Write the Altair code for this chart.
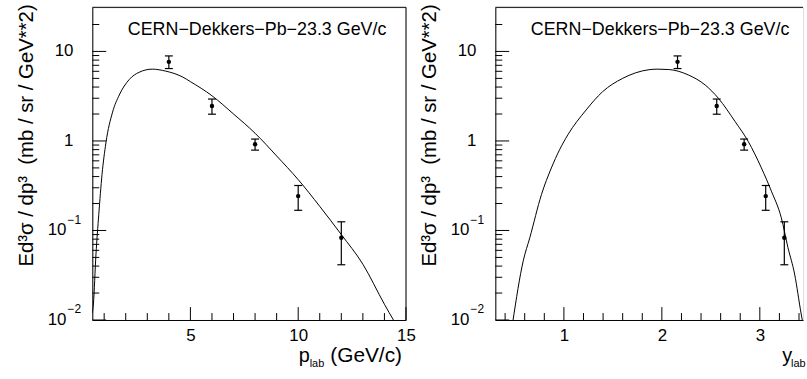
import altair as alt
import pandas as pd

# ---------------- data ----------------
p_lab = [4, 6, 8, 10, 12]
y_lab = [2.16, 2.56, 2.84, 3.06, 3.25]
sigma = [7.65, 2.46, 0.92, 0.242, 0.083]
sigma_hi = [8.91, 2.94, 1.05, 0.318, 0.125]
sigma_lo = [6.44, 1.99, 0.79, 0.168, 0.0414]

curve_p = [0.45, 0.50, 0.62, 0.75, 0.90, 1.08, 1.39, 1.70, 2.16, 2.62, 3.23, 3.85,
           4.62, 5.00, 6.00, 7.00, 8.00, 9.00, 10.00, 11.00, 12.00, 13.00, 14.00, 14.42, 14.6]
curve_p_val = [0.012, 0.0151, 0.0544, 0.151, 0.421, 0.95, 2.10, 3.26, 4.85, 5.85, 6.34, 6.03,
               5.21, 4.60, 3.20, 2.00, 1.22, 0.68, 0.37, 0.186, 0.090, 0.042, 0.0150, 0.0100, 0.0085]

curve_y = [0.478, 0.585, 0.652, 0.771, 0.872, 0.956, 1.04, 1.227, 1.395, 1.598, 1.868, 1.95,
           2.071, 2.274, 2.443, 2.578, 2.747, 2.881, 3.016, 3.118, 3.219, 3.287, 3.355, 3.422, 3.45]
curve_y_val = [0.0095, 0.0458, 0.083, 0.252, 0.499, 0.798, 1.17, 2.22, 3.55, 4.99, 6.25, 6.34,
               6.28, 5.44, 4.21, 2.99, 1.65, 0.99, 0.50, 0.275, 0.139, 0.0645, 0.0326, 0.0117, 0.008]

y_major = [0.01, 0.1, 1, 10]
y_minor = [0.02, 0.03, 0.04, 0.05, 0.06, 0.07, 0.08, 0.09,
           0.2, 0.3, 0.4, 0.5, 0.6, 0.7, 0.8, 0.9,
           2, 3, 4, 5, 6, 7, 8, 9, 20]
y_base_plain = ["10", "1"]
y_base_plain_at = [10, 1]
y_base_pow_at = [0.1, 0.01]
y_sup_text = ["\u22121", "\u22122"]

p_major = [5, 10, 15]
p_minor = [1, 2, 3, 4, 6, 7, 8, 9, 11, 12, 13, 14]
yl_major = [1, 2, 3]
yl_minor = [0.4, 0.6, 0.8, 1.2, 1.4, 1.6, 1.8, 2.2, 2.4, 2.6, 2.8, 3.2, 3.4]

title_text = "CERN\u2212Dekkers\u2212Pb\u221223.3 GeV/c"
ytitle_text = "Ed\u00b3\u03c3\u00a0/\u00a0dp\u00b3\u00a0\u00a0(mb\u00a0/\u00a0sr\u00a0/\u00a0GeV**2)"

FONT = "Liberation Sans"
H = 315
Y_DOMAIN = [0.01, 31.1]


def panel(xs, curve_x, curve_v, x_domain, width, major, minor, xlabel_main, main_x, sub_x):
    xsc = alt.Scale(domain=x_domain, nice=False, zero=False)
    ysc = alt.Scale(type="log", domain=Y_DOMAIN, nice=False)
    xaxis = alt.Axis(values=major, format="d", title=None, ticks=False, grid=False,
                     domain=True, domainColor="black", domainWidth=1,
                     labelFont=FONT, labelFontSize=17, labelColor="black",
                     labelPadding=8, labelFlush=False)
    yaxis = alt.Axis(labels=False, ticks=False, grid=False, title=None,
                     domain=True, domainColor="black", domainWidth=1)

    def X(f):
        return alt.X(f, type="quantitative", scale=xsc, axis=xaxis)

    def Y(f):
        return alt.Y(f, type="quantitative", scale=ysc, axis=yaxis)

    cdf = pd.DataFrame({"x": curve_x, "v": curve_v})
    pdf = pd.DataFrame({"x": xs, "v": sigma, "hi": sigma_hi, "lo": sigma_lo})

    curve = alt.Chart(cdf).mark_line(color="black", strokeWidth=1, clip=True,
                                     interpolate="monotone").encode(
        x=X("x"), y=Y("v"), order="x:Q")
    bars = alt.Chart(pdf).mark_rule(color="black", strokeWidth=1.2).encode(
        x=X("x"), y=Y("lo"), y2="hi")
    cap_hi = alt.Chart(pdf).mark_rule(color="black", strokeWidth=1.2, xOffset=-4, x2Offset=4).encode(
        x=X("x"), x2="x", y=Y("hi"))
    cap_lo = alt.Chart(pdf).mark_rule(color="black", strokeWidth=1.2, xOffset=-4, x2Offset=4).encode(
        x=X("x"), x2="x", y=Y("lo"))
    pts = alt.Chart(pdf).mark_circle(color="black", size=20, opacity=1).encode(
        x=X("x"), y=Y("v"))

    ymaj = alt.Chart(pd.DataFrame({"v": y_major})).mark_rule(color="black").encode(
        y=Y("v"), x=alt.value(0), x2=alt.value(14))
    ymin = alt.Chart(pd.DataFrame({"v": y_minor})).mark_rule(color="black").encode(
        y=Y("v"), x=alt.value(0), x2=alt.value(7))
    xmaj = alt.Chart(pd.DataFrame({"x": major})).mark_rule(color="black").encode(
        x=X("x"), y=alt.value(H), y2=alt.value(H - 13))
    xmin = alt.Chart(pd.DataFrame({"x": minor})).mark_rule(color="black").encode(
        x=X("x"), y=alt.value(H), y2=alt.value(H - 7))

    lab_plain = alt.Chart(pd.DataFrame({"v": y_base_plain_at, "t": y_base_plain})).mark_text(
        align="right", baseline="middle", font=FONT, fontSize=17, color="black").encode(
        y=Y("v"), x=alt.value(-19), text="t:N")
    lab_pow = alt.Chart(pd.DataFrame({"v": y_base_pow_at, "t": ["10", "10"]})).mark_text(
        align="right", baseline="middle", font=FONT, fontSize=17, color="black").encode(
        y=Y("v"), x=alt.value(-26), text="t:N")
    lab_sup = alt.Chart(pd.DataFrame({"v": y_base_pow_at, "t": y_sup_text})).mark_text(
        align="left", baseline="middle", font=FONT, fontSize=12, dy=-11, color="black").encode(
        y=Y("v"), x=alt.value(-25), text="t:N")

    top = alt.Chart(pd.DataFrame({"t": [title_text]})).mark_text(
        align="center", baseline="middle", font=FONT, fontSize=18, color="black").encode(
        x=alt.value(166), y=alt.value(23), text="t:N")
    ytitle = alt.Chart(pd.DataFrame({"t": [ytitle_text]})).mark_text(
        align="right", baseline="middle", angle=270, font=FONT, fontSize=20.5, color="black").encode(
        x=alt.value(-66), y=alt.value(-3), text="t:N")
    xt_main = alt.Chart(pd.DataFrame({"t": [xlabel_main]})).mark_text(
        align="left", baseline="alphabetic", font=FONT, fontSize=20, color="black").encode(
        x=alt.value(main_x), y=alt.value(H + 42), text="t:N")
    xt_sub = alt.Chart(pd.DataFrame({"t": ["lab"]})).mark_text(
        align="left", baseline="alphabetic", font=FONT, fontSize=11, color="black").encode(
        x=alt.value(sub_x), y=alt.value(H + 47), text="t:N")

    frame_top = alt.Chart(pd.DataFrame({"a": [0]})).mark_rule(color="black").encode(
        x=alt.value(0), x2=alt.value(width), y=alt.value(0))

    layers = [curve, bars, cap_hi, cap_lo, pts, ymaj, ymin, xmaj, xmin,
              lab_plain, lab_pow, lab_sup, top, ytitle, xt_main, xt_sub, frame_top]
    return layers


left_layers = panel(p_lab, curve_p, curve_p_val, [0.45, 15], 316, p_major, p_minor,
                    "p", 208, 219)
frame_right = alt.Chart(pd.DataFrame({"a": [0]})).mark_rule(color="black").encode(
    x=alt.value(316), y=alt.value(0), y2=alt.value(H))
left_layers.append(frame_right)
left_title2 = alt.Chart(pd.DataFrame({"t": ["(GeV/c)"]})).mark_text(
    align="right", baseline="alphabetic", font=FONT, fontSize=21, color="black").encode(
    x=alt.value(312), y=alt.value(H + 42), text="t:N")
left_layers.append(left_title2)
left = alt.layer(*left_layers).properties(width=316, height=H)

right_layers = panel(y_lab, curve_y, curve_y_val, [0.3, 3.441], 310, yl_major, yl_minor,
                     "y", 289, 298)
right = alt.layer(*right_layers).properties(width=310, height=H)

chart = alt.hconcat(left, right, spacing=90, bounds="flush").properties(
    padding={"left": 16, "top": 2, "right": 0, "bottom": 0}
).configure_view(stroke=None).configure(background="white")

chart.save("out.html", embed_options={"renderer": "svg", "actions": False})
